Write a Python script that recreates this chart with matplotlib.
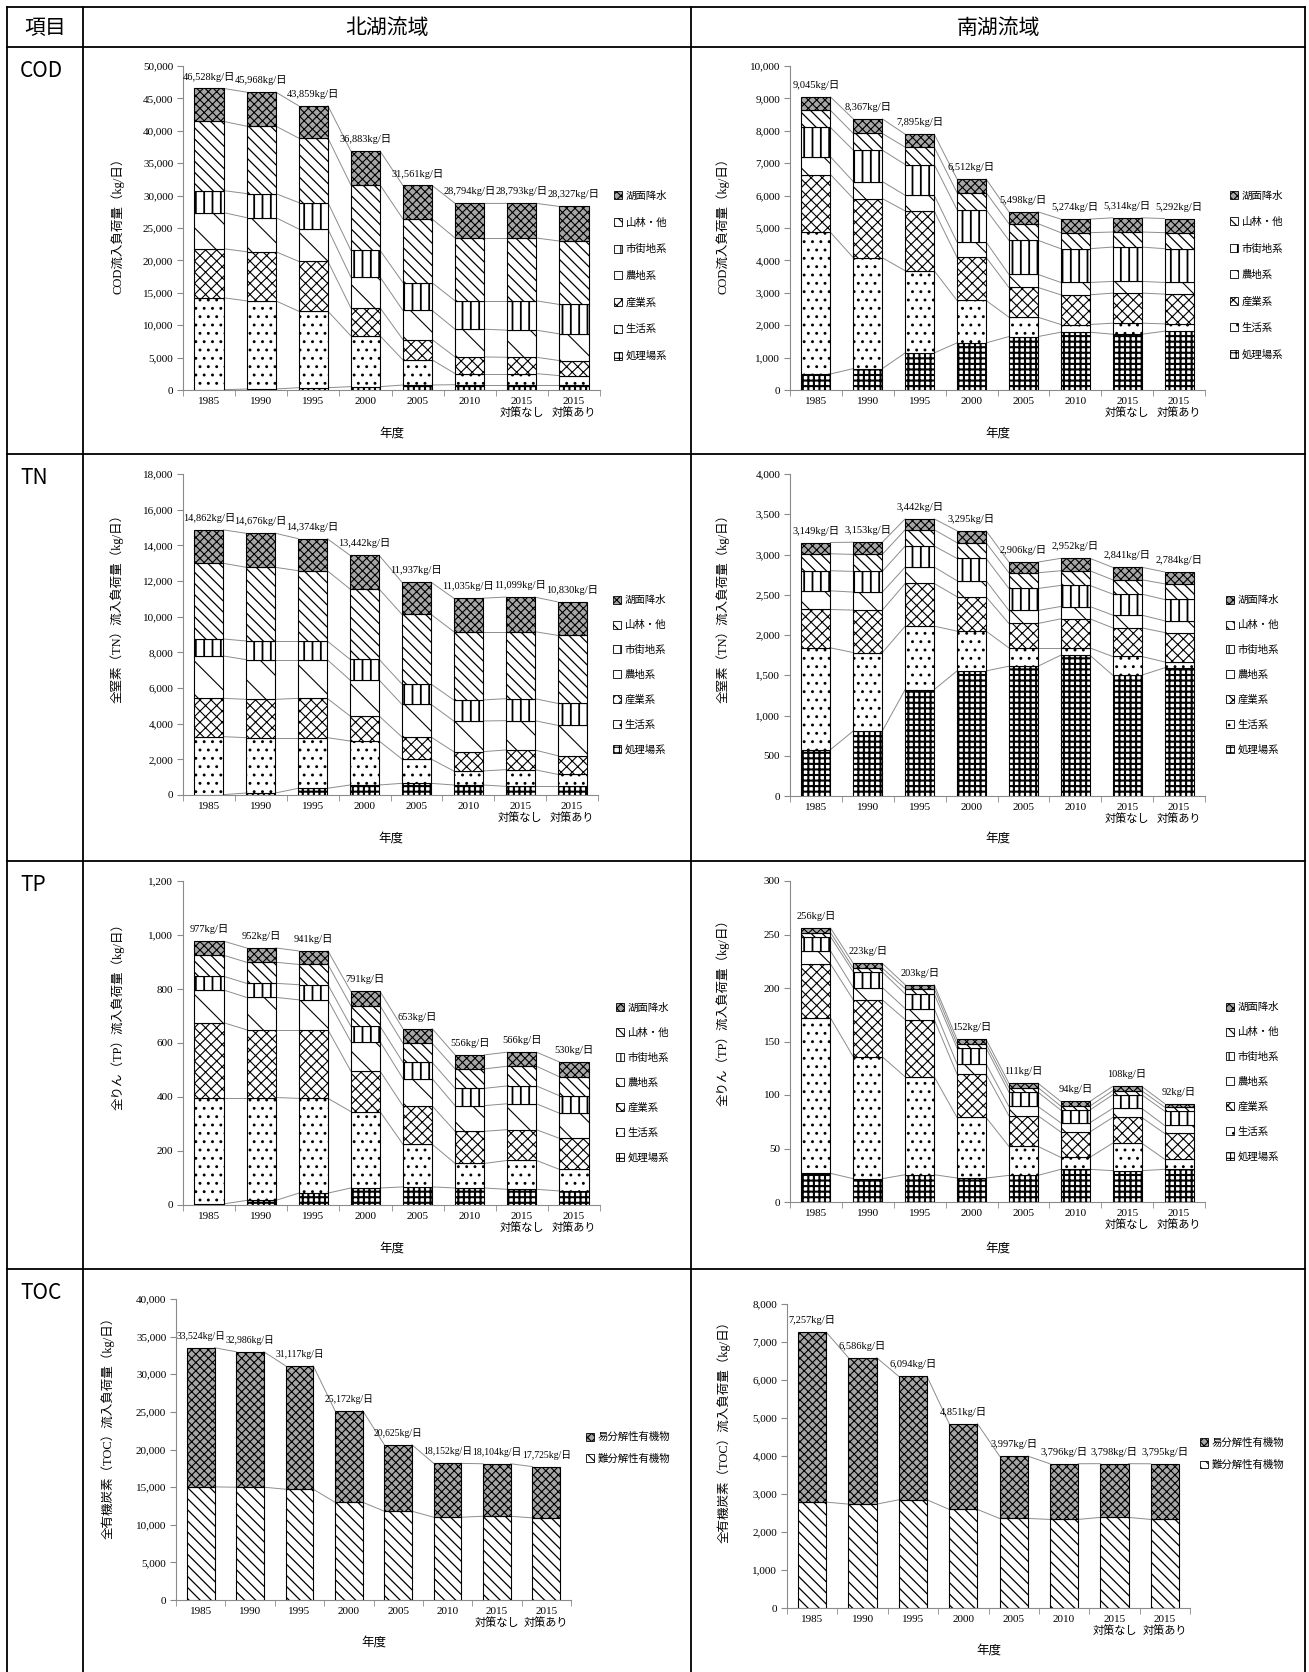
import numpy as np
import matplotlib
matplotlib.use("Agg")
import matplotlib.pyplot as plt
from matplotlib.patches import Patch
from matplotlib.lines import Line2D
from matplotlib.ticker import FuncFormatter

# ---------------- data ----------------
categories = ["1985", "1990", "1995", "2000", "2005", "2010", "2015\n対策なし", "2015\n対策あり"]
sources = ["処理場系", "生活系", "産業系", "農地系", "市街地系", "山林・他", "湖面降水"]   # bottom -> top
toc_sources = ["難分解性有機物", "易分解性有機物"]                                   # bottom -> top

# COD 北湖流域 (kg/日), one list per source in `sources` order
cod_north_shori = [50, 150, 360, 515, 770, 820, 820, 820]
cod_north_seikatsu = [14180, 13610, 11800, 7835, 3870, 1710, 1710, 1400]
cod_north_sangyo = [7570, 7580, 7690, 4330, 3140, 2570, 2520, 2320]
cod_north_nochi = [5570, 5260, 5000, 4740, 4490, 4280, 4180, 4120]
cod_north_shigai = [3400, 3710, 4070, 4130, 4280, 4380, 4530, 4540]
cod_north_sanrin = [10670, 10410, 9950, 10100, 9840, 9690, 9690, 9790]
cod_north_komen = [5088, 5248, 4989, 5233, 5171, 5344, 5343, 5337]

# COD 南湖流域
cod_south_shori = [495, 660, 1144, 1454, 1649, 1784, 1722, 1814]
cod_south_seikatsu = [4371, 3422, 2536, 1309, 598, 237, 340, 227]
cod_south_sangyo = [1784, 1825, 1846, 1330, 918, 917, 928, 918]
cod_south_nochi = [546, 526, 484, 474, 402, 382, 361, 361]
cod_south_shigai = [907, 969, 949, 1000, 1052, 1041, 1061, 1041]
cod_south_sanrin = [526, 516, 536, 526, 515, 495, 464, 495]
cod_south_komen = [416, 449, 400, 419, 364, 418, 438, 436]

# TN 北湖流域
tn_north_shori = [20, 112, 374, 561, 654, 561, 486, 486]
tn_north_seikatsu = [3251, 3103, 2841, 2467, 1365, 785, 935, 673]
tn_north_sangyo = [2149, 2149, 2205, 1402, 1233, 1084, 1102, 1047]
tn_north_nochi = [2374, 2225, 2169, 2019, 1832, 1720, 1645, 1701]
tn_north_shigai = [954, 1047, 1047, 1158, 1140, 1177, 1234, 1233]
tn_north_sanrin = [4243, 4130, 3943, 3944, 3907, 3832, 3757, 3813]
tn_north_komen = [1871, 1910, 1795, 1891, 1806, 1876, 1940, 1877]

# TN 南湖流域
tn_south_shori = [576, 808, 1322, 1554, 1612, 1749, 1501, 1592]
tn_south_seikatsu = [1264, 974, 788, 494, 228, 91, 232, 74]
tn_south_sangyo = [477, 527, 530, 427, 303, 361, 356, 365]
tn_south_nochi = [232, 224, 204, 199, 162, 153, 158, 145]
tn_south_shigai = [249, 257, 261, 277, 273, 262, 261, 265]
tn_south_sanrin = [211, 211, 203, 195, 195, 182, 178, 195]
tn_south_komen = [140, 152, 134, 149, 133, 154, 155, 148]

# TP 北湖流域
tp_north_shori = [4, 17, 44, 63, 67, 63, 58, 52]
tp_north_seikatsu = [394, 381, 351, 283, 158, 91, 107, 80]
tp_north_sangyo = [277, 251, 254, 150, 142, 119, 114, 115]
tp_north_nochi = [121, 120, 111, 109, 101, 95, 96, 93]
tp_north_shigai = [51, 52, 56, 57, 60, 64, 66, 65]
tp_north_sanrin = [78, 78, 75, 76, 71, 72, 73, 70]
tp_north_komen = [52, 53, 50, 53, 54, 52, 52, 55]

# TP 南湖流域
tp_south_shori = [26.8, 21.8, 25.5, 22.4, 24.9, 30.5, 29.3, 30.5]
tp_south_seikatsu = [145.2, 113.9, 91.5, 56.6, 27.1, 11.2, 25.7, 9.6]
tp_south_sangyo = [50.5, 53.2, 53.5, 40.5, 28.6, 23.7, 24.0, 24.0]
tp_south_nochi = [12.2, 11.5, 10.3, 9.5, 8.7, 8.6, 8.5, 7.5]
tp_south_shigai = [13.3, 14.6, 13.7, 15.0, 13.4, 11.9, 12.7, 13.4]
tp_south_sanrin = [3.8, 3.5, 5.0, 3.8, 4.3, 3.7, 3.8, 3.7]
tp_south_komen = [4.2, 4.5, 3.5, 4.2, 4.0, 4.4, 4.0, 3.3]

# TOC
toc_north_nan = [15033, 14989, 14723, 12993, 11796, 10998, 11131, 10909]
toc_north_i = [18491, 17997, 16394, 12179, 8829, 7154, 6973, 6816]
toc_south_nan = [2786, 2734, 2848, 2594, 2357, 2331, 2384, 2331]
toc_south_i = [4471, 3852, 3246, 2257, 1640, 1465, 1414, 1464]

# ---------------- style ----------------
W, H, DPI = 1309, 1672, 100
SERIF = ["Liberation Serif", "Noto Sans CJK JP"]
JP = ["Noto Sans CJK JP", "DejaVu Sans"]
plt.rcParams["font.family"] = SERIF
plt.rcParams["hatch.linewidth"] = 0.8

# (hatch, face colour, hatch line width) per source, bottom -> top
styles = [("+++", "white", 1.5), ("..", "white", 0.9), ("xxx", "white", 0.8),
          ("\\", "white", 0.8), ("||", "white", 1.3), ("\\\\\\", "white", 0.9),
          ("xxxx", "#a6a6a6", 0.8)]
toc_styles = [("\\\\\\", "white", 0.9), ("xxxx", "#a6a6a6", 0.8)]
AXC = "#8a8a8a"
LINEC = "#8c8c8c"

fig = plt.figure(figsize=(W / DPI, H / DPI), dpi=DPI)
fig.patch.set_facecolor("white")


def fx(x):
    return x / W


def fy(y):
    return 1 - y / H


def set_hlw(p, w):
    try:
        p.set_hatch_linewidth(w)
    except AttributeError:
        pass


def draw_chart(box, series, names, sty, ymax, ystep, ylabel, ylab_xy, xlab_y, leg_xy, leg_pitch,
               label_fs=7.5):
    l, r, t, b = box
    ax = fig.add_axes([fx(l), fy(b), (r - l) / W, (b - t) / H])
    x = np.arange(len(categories))
    width = 0.56
    bottom = np.zeros(len(categories))
    cums = []
    for vals, name, (h, fc, hw) in zip(series, names, sty):
        vals = np.asarray(vals, float)
        bars = ax.bar(x, vals, width, bottom=bottom, color=fc, edgecolor="black",
                      linewidth=0.8, hatch=h, label=name, zorder=3)
        for p in bars:
            set_hlw(p, hw)
        bottom = bottom + vals
        cums.append(bottom.copy())
    for c in cums:
        for i in range(len(x) - 1):
            ax.plot([x[i] + width / 2, x[i + 1] - width / 2], [c[i], c[i + 1]],
                    color=LINEC, lw=0.7, zorder=2)
    for i, tot in enumerate(bottom):
        ax.annotate(f"{int(round(tot)):,}kg/日", (x[i], tot), xytext=(0, 5),
                    textcoords="offset points", ha="center", va="bottom", fontsize=label_fs)
    ax.set_xlim(-0.5, len(x) - 0.5)
    ax.set_ylim(0, ymax)
    ax.set_yticks(np.arange(0, ymax + ystep / 2, ystep))
    ax.yaxis.set_major_formatter(FuncFormatter(lambda v, p: f"{int(round(v)):,}"))
    ax.set_xticks(x)
    ax.set_xticklabels(categories, fontsize=8, linespacing=1.15)
    ax.set_xticks(np.arange(-0.5, len(x), 1), minor=True)
    ax.tick_params(axis="x", which="major", length=0, pad=5)
    ax.tick_params(axis="x", which="minor", length=4, color=AXC, direction="out")
    ax.tick_params(axis="y", length=4, color=AXC, labelsize=8, pad=3)
    for s in ("top", "right"):
        ax.spines[s].set_visible(False)
    for s in ("left", "bottom"):
        ax.spines[s].set_color(AXC)
        ax.spines[s].set_linewidth(0.8)
    ax.set_ylabel(ylabel, fontsize=9, va="center", ha="center")
    ax.yaxis.set_label_coords(fx(ylab_xy[0]), fy(ylab_xy[1]), transform=fig.transFigure)
    ax.set_xlabel("年度", fontsize=9, family=JP, va="center")
    ax.xaxis.set_label_coords(fx((l + r) / 2), fy(xlab_y), transform=fig.transFigure)
    handles = []
    for n, (h, fc, hw) in zip(names, sty):
        hp = Patch(facecolor=fc, edgecolor="black", hatch=h, linewidth=0.6, label=n)
        set_hlw(hp, min(hw, 0.8))
        handles.append(hp)
    handles = handles[::-1]
    fs = 7.5
    fs_px = fs * DPI / 72
    ls = (leg_pitch - 10.1) / fs_px
    ax.legend(handles=handles, loc="center left",
              bbox_to_anchor=(fx(leg_xy[0]), fy(leg_xy[1])), bbox_transform=fig.transFigure,
              frameon=False, borderpad=0, borderaxespad=0, handlelength=0.8, handleheight=0.8,
              handletextpad=0.3, labelspacing=ls, prop={"family": JP, "size": fs})
    return ax


draw_chart((183, 600, 66, 390),
           [cod_north_shori, cod_north_seikatsu, cod_north_sangyo, cod_north_nochi,
            cod_north_shigai, cod_north_sanrin, cod_north_komen],
           sources, styles, 50000, 5000, "COD流入負荷量（kg/日）", (118, 223), 433, (614, 276), 26.7)
draw_chart((790, 1205, 66, 390),
           [cod_south_shori, cod_south_seikatsu, cod_south_sangyo, cod_south_nochi,
            cod_south_shigai, cod_south_sanrin, cod_south_komen],
           sources, styles, 10000, 1000, "COD流入負荷量（kg/日）", (723, 223), 433, (1230, 275), 26.5)
draw_chart((183, 598, 474, 795),
           [tn_north_shori, tn_north_seikatsu, tn_north_sangyo, tn_north_nochi,
            tn_north_shigai, tn_north_sanrin, tn_north_komen],
           sources, styles, 18000, 2000, "全窒素（TN）流入負荷量（kg/日）", (117, 605), 838, (613, 675), 24.9)
draw_chart((790, 1205, 474, 796),
           [tn_south_shori, tn_south_seikatsu, tn_south_sangyo, tn_south_nochi,
            tn_south_shigai, tn_south_sanrin, tn_south_komen],
           sources, styles, 4000, 500, "全窒素（TN）流入負荷量（kg/日）", (723, 605), 838, (1226, 675), 24.9)
draw_chart((183, 600, 881, 1205),
           [tp_north_shori, tp_north_seikatsu, tp_north_sangyo, tp_north_nochi,
            tp_north_shigai, tp_north_sanrin, tp_north_komen],
           sources, styles, 1200, 200, "全りん（TP）流入負荷量（kg/日）", (118, 1013), 1248, (616, 1083), 25.0)
draw_chart((790, 1205, 881, 1202),
           [tp_south_shori, tp_south_seikatsu, tp_south_sangyo, tp_south_nochi,
            tp_south_shigai, tp_south_sanrin, tp_south_komen],
           sources, styles, 300, 50, "全りん（TP）流入負荷量（kg/日）", (723, 1010), 1248, (1226, 1082), 24.9)
draw_chart((176, 571, 1299, 1600), [toc_north_nan, toc_north_i], toc_sources, toc_styles,
           40000, 5000, "全有機炭素（TOC）流入負荷量（kg/日）", (108, 1425), 1642, (586, 1448), 21.5,
           label_fs=7.0)
draw_chart((787, 1190, 1304, 1608), [toc_south_nan, toc_south_i], toc_sources, toc_styles,
           8000, 1000, "全有機炭素（TOC）流入負荷量（kg/日）", (724, 1429), 1650, (1200, 1454), 22.0)

# ---------------- table frame ----------------
TL = 1.3
x_left, x_c1, x_c2, x_right = 7, 83, 691, 1305
y_top, y_head, y_rows = 7, 47, [454, 861, 1269]
for y in [y_top, y_head] + y_rows:
    fig.add_artist(Line2D([fx(x_left), fx(x_right)], [fy(y), fy(y)], color="black", lw=TL))
for xv in [x_left, x_c1, x_c2, x_right]:
    fig.add_artist(Line2D([fx(xv), fx(xv)], [fy(y_top), fy(H + 2)], color="black", lw=TL))

fig.text(fx((x_left + x_c1) / 2), fy(28), "項目", family=JP, fontsize=15, ha="center", va="center")
fig.text(fx((x_c1 + x_c2) / 2), fy(28), "北湖流域", family=JP, fontsize=15, ha="center", va="center")
fig.text(fx((x_c2 + x_right) / 2), fy(28), "南湖流域", family=JP, fontsize=15, ha="center", va="center")
for lab, ytop in zip(["COD", "TN", "TP", "TOC"], [y_head] + y_rows):
    fig.text(fx(20), fy(ytop + 24), lab, family=JP, fontsize=15, ha="left", va="center")

fig.savefig("out.png", dpi=DPI, facecolor="white")
